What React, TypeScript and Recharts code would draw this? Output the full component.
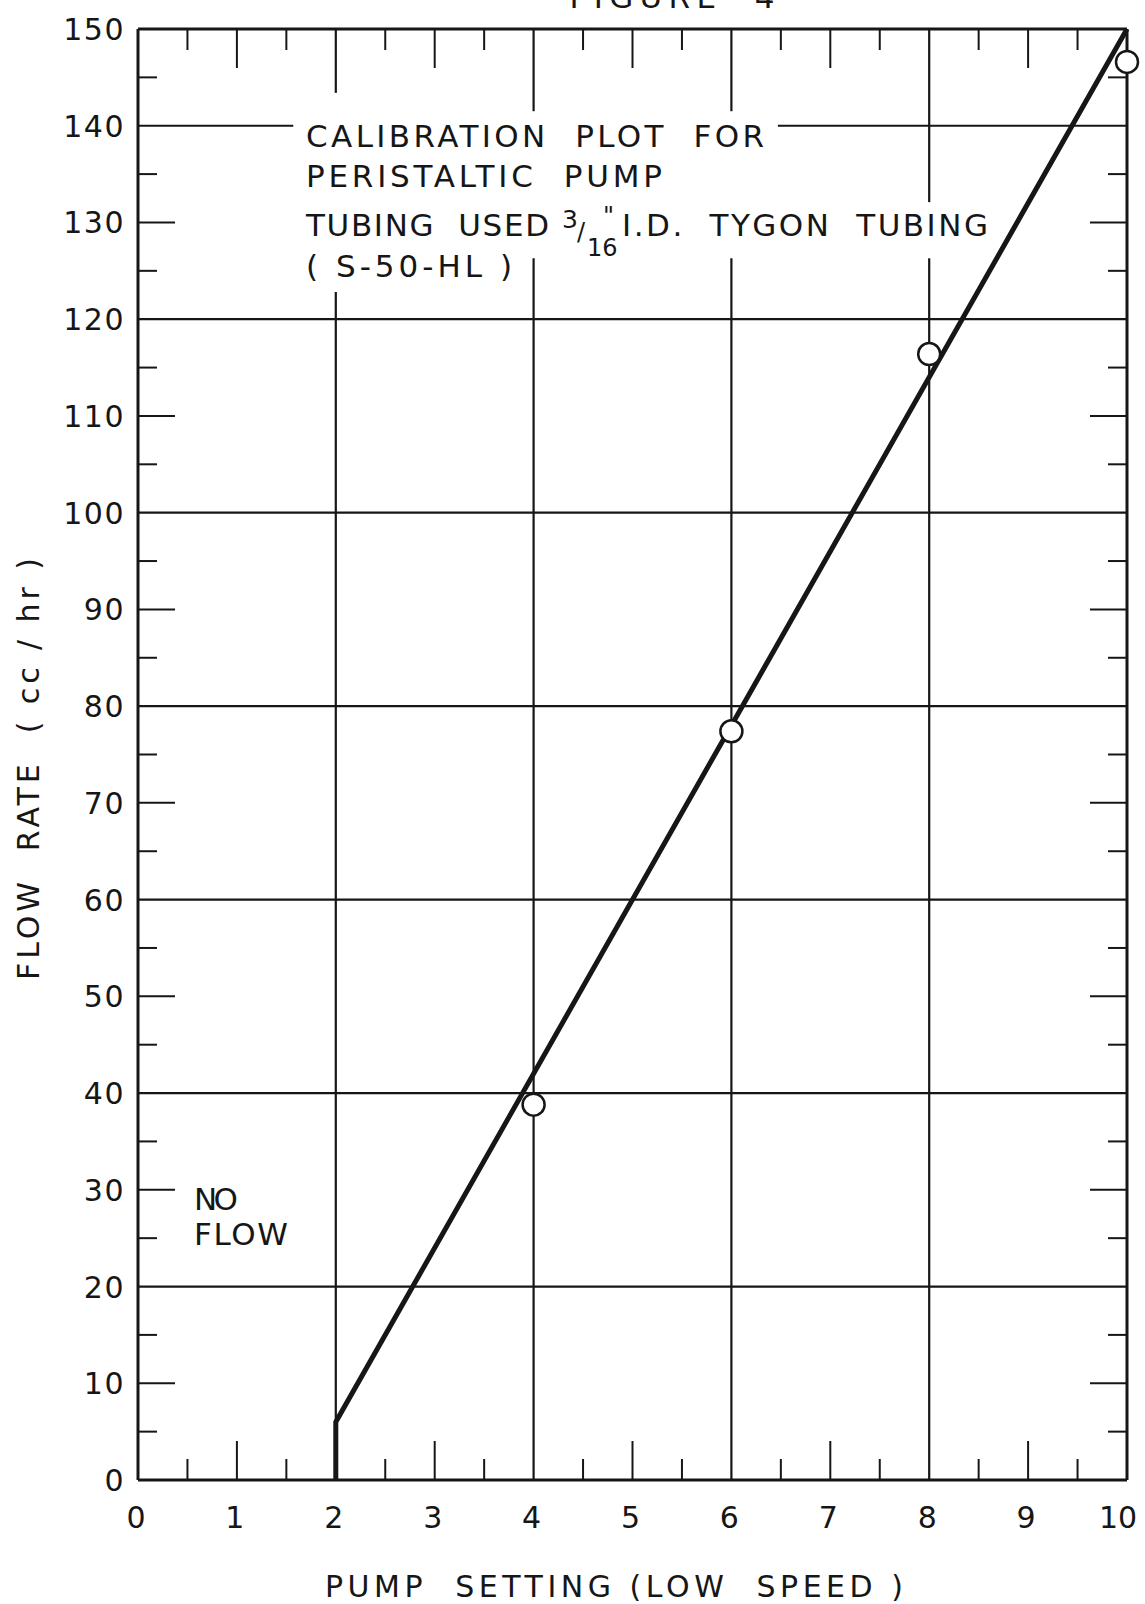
import React from 'react';
import { ComposedChart, XAxis, YAxis, Line, Scatter, ReferenceLine } from 'recharts';

// ---- data ----
const pumpSetting = [4, 6, 8, 10];
const flowRate = [38.8, 77.4, 116.4, 146.6];
const fitSetting = [2, 2, 10];
const fitFlow = [0, 6, 150];
const xTickValues = [0, 0.5, 1, 1.5, 2, 2.5, 3, 3.5, 4, 4.5, 5, 5.5, 6, 6.5, 7, 7.5, 8, 8.5, 9, 9.5, 10];
const yTickValues = [0, 5, 10, 15, 20, 25, 30, 35, 40, 45, 50, 55, 60, 65, 70, 75, 80, 85, 90, 95, 100, 105, 110, 115, 120, 125, 130, 135, 140, 145, 150];
const xLabelValues = [0, 1, 2, 3, 4, 5, 6, 7, 8, 9, 10];
const yLabelValues = [0, 10, 20, 30, 40, 50, 60, 70, 80, 90, 100, 110, 120, 130, 140, 150];
const hGridFull = [20, 40, 60, 80, 100, 120];

const points = pumpSetting.map((x, i) => ({ x, y: flowRate[i] }));
const fitLine = fitSetting.map((x, i) => ({ x, y: fitFlow[i] }));

const INK = '#161616';
const FONT = '"DejaVu Sans", "Liberation Sans", sans-serif';

const isLongX = (v: number) => Number.isInteger(v) && v % 2 === 1;
const isHalf = (v: number) => !Number.isInteger(v);

const BottomTick = (props: any) => {
  const { x, y, payload } = props;
  const v = payload.value as number;
  const len = isHalf(v) ? 21 : isLongX(v) ? 39 : 0;
  return (
    <g>
      {len > 0 && <line x1={x} x2={x} y1={y} y2={y - len} stroke={INK} strokeWidth={2} />}
      {xLabelValues.includes(v) && (
        <text
          x={v === 10 ? x - 9 : x - 2}
          y={y + 48}
          textAnchor="middle"
          fontFamily={FONT}
          fontSize={30}
          fill={INK}
        >
          {String(v)}
        </text>
      )}
    </g>
  );
};

const TopTick = (props: any) => {
  const { x, y, payload } = props;
  const v = payload.value as number;
  const len = isHalf(v) ? 21 : isLongX(v) ? 39 : 0;
  return <g>{len > 0 && <line x1={x} x2={x} y1={y} y2={y + len} stroke={INK} strokeWidth={2} />}</g>;
};

const yLen = (v: number) => (v % 10 === 5 ? 19 : v % 20 === 10 ? 37 : 0);

const LeftTick = (props: any) => {
  const { x, y, payload } = props;
  const v = payload.value as number;
  const len = yLen(v);
  return (
    <g>
      {len > 0 && <line x1={x} x2={x + len} y1={y} y2={y} stroke={INK} strokeWidth={2} />}
      {yLabelValues.includes(v) && (
        <text x={x - 13} y={y + 11} textAnchor="end" fontFamily={FONT} fontSize={30} fill={INK} letterSpacing={1.5}>
          {String(v)}
        </text>
      )}
    </g>
  );
};

const RightTick = (props: any) => {
  const { x, y, payload } = props;
  const v = payload.value as number;
  const len = yLen(v);
  return <g>{len > 0 && <line x1={x} x2={x - len} y1={y} y2={y} stroke={INK} strokeWidth={2} />}</g>;
};

const Circle = (props: any) => (
  <circle cx={props.cx} cy={props.cy} r={11} fill="#fff" stroke={INK} strokeWidth={2.5} />
);

const gl = { stroke: INK, strokeWidth: 2.2 };
const axisStroke = { stroke: INK, strokeWidth: 3 };
const txt = { fontFamily: FONT, fill: INK, style: { whiteSpace: 'pre' as const } };

export default function App() {
  return (
    <div style={{ position: 'absolute', left: 0, top: 0, width: 1145, height: 1604, background: '#fff' }}>
      <ComposedChart width={1145} height={1604} margin={{ top: 28, right: 17, bottom: 64, left: 38 }}>
        <XAxis
          xAxisId={0}
          type="number"
          dataKey="x"
          domain={[0, 10]}
          ticks={xTickValues}
          interval={0}
          height={60}
          tickSize={0}
          tickMargin={0}
          tickLine={false}
          axisLine={axisStroke}
          tick={<BottomTick />}
        />
        <XAxis
          xAxisId="top"
          orientation="top"
          type="number"
          dataKey="x"
          domain={[0, 10]}
          ticks={xTickValues}
          interval={0}
          height={1}
          tickSize={0}
          tickMargin={0}
          tickLine={false}
          axisLine={axisStroke}
          tick={<TopTick />}
          allowDataOverflow
        />
        <YAxis
          yAxisId={0}
          type="number"
          dataKey="y"
          domain={[0, 150]}
          ticks={yTickValues}
          interval={0}
          width={100}
          tickSize={0}
          tickMargin={0}
          tickLine={false}
          axisLine={axisStroke}
          tick={<LeftTick />}
        />
        <YAxis
          yAxisId="right"
          orientation="right"
          type="number"
          dataKey="y"
          domain={[0, 150]}
          ticks={yTickValues}
          interval={0}
          width={1}
          tickSize={0}
          tickMargin={0}
          tickLine={false}
          axisLine={axisStroke}
          tick={<RightTick />}
          allowDataOverflow
        />

        {hGridFull.map((v) => (
          <ReferenceLine key={'h' + v} y={v} {...gl} />
        ))}
        <ReferenceLine segment={[{ x: 0, y: 140 }, { x: 1.57, y: 140 }]} {...gl} />
        <ReferenceLine segment={[{ x: 6.47, y: 140 }, { x: 10, y: 140 }]} {...gl} />

        <ReferenceLine segment={[{ x: 2, y: 150 }, { x: 2, y: 143.4 }]} {...gl} />
        <ReferenceLine segment={[{ x: 2, y: 122.8 }, { x: 2, y: 0 }]} {...gl} />
        <ReferenceLine segment={[{ x: 4, y: 150 }, { x: 4, y: 141.5 }]} {...gl} />
        <ReferenceLine segment={[{ x: 4, y: 126.3 }, { x: 4, y: 0 }]} {...gl} />
        <ReferenceLine segment={[{ x: 6, y: 150 }, { x: 6, y: 141.5 }]} {...gl} />
        <ReferenceLine segment={[{ x: 6, y: 126.3 }, { x: 6, y: 0 }]} {...gl} />
        <ReferenceLine segment={[{ x: 8, y: 150 }, { x: 8, y: 132.1 }]} {...gl} />
        <ReferenceLine segment={[{ x: 8, y: 126.3 }, { x: 8, y: 0 }]} {...gl} />

        <Line
          data={fitLine}
          dataKey="y"
          type="linear"
          stroke={INK}
          strokeWidth={5}
          dot={false}
          activeDot={false}
          isAnimationActive={false}
        />
        <Scatter data={points} dataKey="y" shape={<Circle />} isAnimationActive={false} />

        {/* annotations */}
        <text x={672} y={8} textAnchor="middle" fontSize={31} {...txt} textLength={205} lengthAdjust="spacing">FIGURE  4</text>
        <text x={306} y={147} fontSize={31} {...txt} textLength={458} lengthAdjust="spacing">CALIBRATION  PLOT  FOR</text>
        <text x={306} y={187} fontSize={31} {...txt} textLength={356} lengthAdjust="spacing">PERISTALTIC  PUMP</text>
        <text x={306} y={236} fontSize={31} {...txt} textLength={243} lengthAdjust="spacing">TUBING  USED</text>
        <text x={562} y={228} fontSize={25} {...txt}>3</text>
        <text x={577} y={240} fontSize={24} {...txt}>/</text>
        <text x={587} y={256} fontSize={24} {...txt}>16</text>
        <text x={603} y={224} fontSize={24} {...txt}>"</text>
        <text x={622} y={236} fontSize={31} {...txt} textLength={366} lengthAdjust="spacing">I.D.  TYGON  TUBING</text>
        <text x={306} y={277} fontSize={31} {...txt} textLength={206} lengthAdjust="spacing">( S-50-HL )</text>
        <text x={194} y={1210} fontSize={31} {...txt} textLength={44} lengthAdjust="spacing">NO</text>
        <text x={194} y={1245} fontSize={31} {...txt} textLength={94} lengthAdjust="spacing">FLOW</text>
        <text x={325} y={1597} fontSize={30} {...txt} textLength={578} lengthAdjust="spacing">PUMP  SETTING (LOW  SPEED )</text>
        <text
          x={0}
          y={0}
          fontSize={30}
          {...txt}
          textLength={422}
          lengthAdjust="spacing"
          transform="translate(39 980) rotate(-90)"
        >
          FLOW  RATE  ( cc / hr )
        </text>
      </ComposedChart>
    </div>
  );
}
